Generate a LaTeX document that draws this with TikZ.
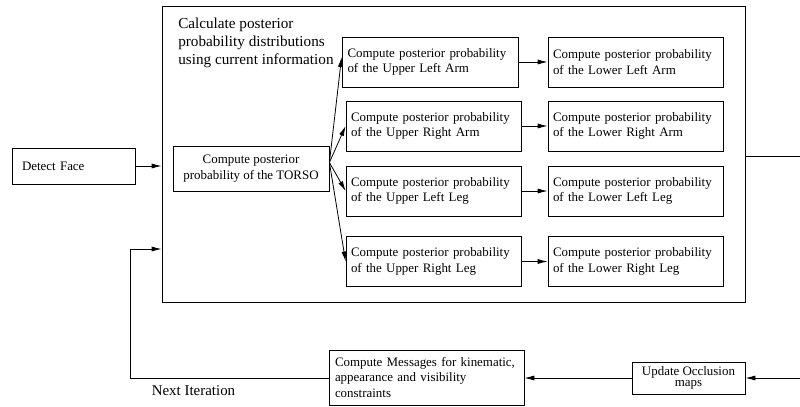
\documentclass[tikz,border=0pt]{standalone}
\usepackage{fontspec}
\setmainfont{Liberation Serif}
\usetikzlibrary{arrows.meta}

\begin{document}
\begin{tikzpicture}[
        x=0.75pt, y=-0.75pt,
        every node/.style={font=\fontsize{9.7}{11.5}\selectfont},
        flow/.style={-{Latex[length=7.5pt,width=3.8pt]}, line width=0.6pt},
        stepbox/.style={draw, line width=0.6pt, inner sep=0pt},
        partbox/.style={stepbox, minimum width=131.25pt, minimum height=37.5pt,
            text width=123.75pt, align=left}
    ]

    \useasboundingbox (0,0) rectangle (800,407);

    % Outer frame for one iteration
    \node[stepbox, minimum width=437.25pt, minimum height=222pt] (outer) at (453.5,154) {};
    \node[anchor=west, align=left, inner sep=0pt,
        font=\fontsize{11.4}{13.5}\selectfont] (title) at (178,43)
    {Calculate posterior\\probability distributions\\using current information};

    % Detection and torso
    \node[stepbox, minimum width=92.25pt, minimum height=27pt,
        text width=77.25pt, align=left] (face) at (73.5,166) {Detect Face};
    \node[stepbox, minimum width=117pt, minimum height=33.75pt, align=center]
        (torso) at (251,168.5) {Compute posterior\\probability of the TORSO};

    % Upper limbs
    \node[partbox, minimum width=132pt] (ula) at (430,62) {Compute posterior probability\\of the Upper Left Arm};
    \node[partbox] (ura) at (433.5,126)   {Compute posterior probability\\of the Upper Right Arm};
    \node[partbox] (ull) at (433.5,191)   {Compute posterior probability\\of the Upper Left Leg};
    \node[partbox] (url) at (433.5,261.5) {Compute posterior probability\\of the Upper Right Leg};

    % Lower limbs
    \node[partbox] (lla) at (635.5,62)    {Compute posterior probability\\of the Lower Left Arm};
    \node[partbox] (lra) at (635.5,126)   {Compute posterior probability\\of the Lower Right Arm};
    \node[partbox] (lll) at (635.5,191)   {Compute posterior probability\\of the Lower Left Leg};
    \node[partbox] (lrl) at (635.5,261.5) {Compute posterior probability\\of the Lower Right Leg};

    % Message passing row
    \node[stepbox, minimum width=146.25pt, minimum height=41.25pt,
        text width=137.25pt, align=left] (msgs) at (426.5,377.5)
    {Compute Messages for kinematic,\\appearance and visibility\\constraints};
    \node[stepbox, minimum width=84.75pt, minimum height=24pt, align=center,
        font=\fontsize{9.7}{8.5}\selectfont] (occl) at (688.5,378)
    {Update Occlusion\\maps};

    \coordinate (fork) at ([yshift=4.5pt]torso.east);
    \coordinate (edgeA) at (800,156.7);
    \coordinate (edgeB) at (800,378);
    \coordinate (loop) at (130,249);

    % Connectors
    \draw[flow] (face.east) -- (face.east -| outer.west);
    \draw[flow] (fork) -- ([yshift=3.75pt]ula.west);
    \foreach \p in {ura,ull,url}
        \draw[flow] (fork) -- (\p.west);
    \draw[flow] (ula) -- (lla);
    \draw[flow] (ura) -- (lra);
    \draw[flow] (ull) -- (lll);
    \draw[flow] (url) -- (lrl);

    \draw[line width=0.6pt] (outer.east |- edgeA) -- (edgeA);
    \draw[flow] (edgeB) -- (occl.east);
    \draw[flow] (occl.west) -- (occl.west -| msgs.east);
    \draw[flow] (msgs.west |- occl.west) -| (loop) -- (loop -| outer.west);

    \node[font=\fontsize{11.2}{13}\selectfont] (next) at (193.5,391) {Next Iteration};

\end{tikzpicture}
\end{document}
